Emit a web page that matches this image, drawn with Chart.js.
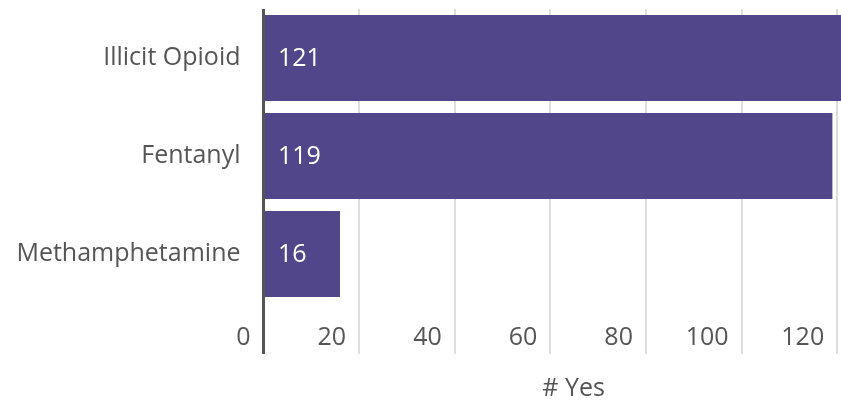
<!DOCTYPE html>
<html>
<head>
<meta charset="utf-8">
<script src="https://cdn.jsdelivr.net/npm/chart.js@4"></script>
<style>
  body { margin: 0; background: #fff; }
</style>
</head>
<body>
<canvas id="myChart" width="841" height="400"></canvas>
<script>
const categories = ["Illicit Opioid", "Fentanyl", "Methamphetamine"];
const yesCounts = [121, 119, 16];
const tickStep = 20;
const axisTitle = "# Yes";

const barColor = "#514689";
const textColor = "#555555";
const fontFamily = "'Open Sans', sans-serif";

// white value labels inside the bars, near the base
const barLabels = {
  id: "barLabels",
  afterDatasetsDraw(chart) {
    const ctx = chart.ctx;
    const meta = chart.getDatasetMeta(0);
    ctx.save();
    ctx.fillStyle = "#ffffff";
    ctx.font = "25px " + fontFamily;
    ctx.textAlign = "left";
    ctx.textBaseline = "middle";
    meta.data.forEach((bar, i) => {
      ctx.fillText(String(yesCounts[i]), bar.base + 13, bar.y + 1);
    });
    ctx.restore();
  },
};

// axis title sits a bit right of the plot centre in the original
const xTitle = {
  id: "xTitle",
  afterDraw(chart) {
    const ctx = chart.ctx;
    const area = chart.chartArea;
    ctx.save();
    ctx.fillStyle = textColor;
    ctx.font = "25px " + fontFamily;
    ctx.textAlign = "center";
    ctx.textBaseline = "middle";
    ctx.fillText(axisTitle, area.left + (area.right - area.left) * 0.537, 389);
    ctx.restore();
  },
};

const ctx = document.getElementById("myChart").getContext("2d");
const myChart = new Chart(ctx, {
  type: "bar",
  data: {
    labels: categories,
    datasets: [
      {
        label: axisTitle,
        data: yesCounts,
        backgroundColor: barColor,
        borderWidth: 0,
        categoryPercentage: 1,
        barPercentage: 0.88,
      },
    ],
  },
  options: {
    indexAxis: "y",
    responsive: false,
    animation: false,
    layout: { padding: { top: 9, right: 0, left: 0, bottom: 0 } },
    plugins: {
      legend: { display: false },
      tooltip: { enabled: false },
    },
    scales: {
      x: {
        min: 0,
        max: 120.8,
        border: { display: false },
        grid: {
          color: (c) => (c.tick && c.tick.value === 0 ? "#555555" : "#dddddd"),
          lineWidth: (c) => (c.tick && c.tick.value === 0 ? 3 : 2),
          tickLength: 51,
        },
        ticks: {
          stepSize: tickStep,
          includeBounds: false,
          align: "end",
          labelOffset: -13,
          padding: -31,
          color: textColor,
          font: { family: fontFamily, size: 25 },
          maxRotation: 0,
        },
        afterFit: (scale) => {
          scale.height = 97;
          scale.paddingLeft = 0;
          scale.paddingRight = 0;
        },
      },
      y: {
        border: { display: false },
        grid: { display: false, drawTicks: false },
        ticks: {
          padding: 23,
          color: textColor,
          font: { family: fontFamily, size: 25 },
        },
        afterFit: (scale) => {
          scale.width = 263.5;
          scale.paddingTop = 0;
          scale.paddingBottom = 0;
        },
      },
    },
  },
  plugins: [barLabels, xTitle],
});
</script>
</body>
</html>
